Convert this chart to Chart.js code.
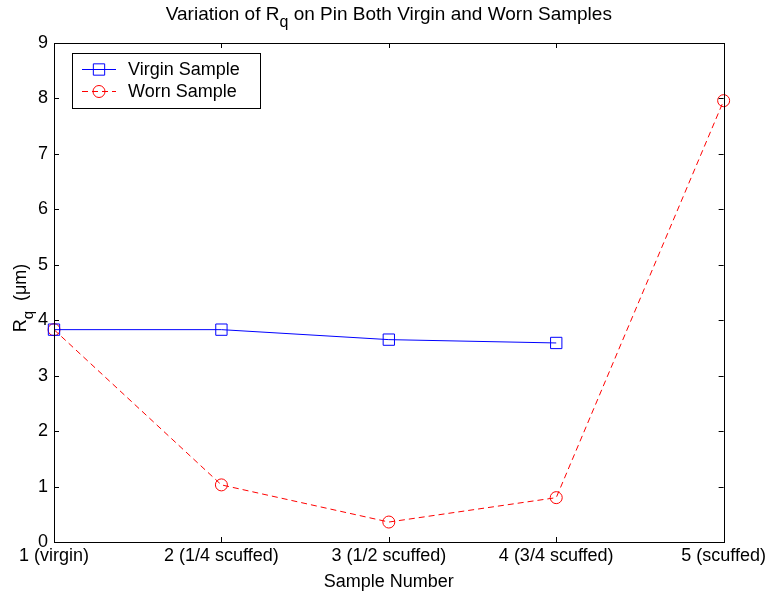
<!DOCTYPE html>
<html>
<head>
<meta charset="utf-8">
<script src="https://cdn.jsdelivr.net/npm/chart.js@4.4.0/dist/chart.umd.min.js"></script>
<style>
html,body{margin:0;padding:0;background:#fff;}
</style>
</head>
<body>
<canvas id="c" width="769" height="594"></canvas>
<script>
const sampleLabels = ['1 (virgin)', '2 (1/4 scuffed)', '3 (1/2 scuffed)', '4 (3/4 scuffed)', '5 (scuffed)'];
const virginRq = [3.83, 3.83, 3.65, 3.59];
const wornRq = [3.83, 1.03, 0.36, 0.80, 7.96];
const yMin = 0, yMax = 9;

const FONT = "'Liberation Sans', Arial, sans-serif";
const FS = 18;
const SUB = 15;

// draws text with a subscript piece, parts = [[text, isSub], ...]
function subText(ctx, parts, x, y, size) {
  const sub = Math.round(size * SUB / FS);
  let w = 0;
  parts.forEach(p => {
    ctx.font = (p[1] ? sub : size) + 'px ' + FONT;
    w += ctx.measureText(p[0]).width;
  });
  let cx = x - w / 2;
  parts.forEach(p => {
    ctx.font = (p[1] ? sub : size) + 'px ' + FONT;
    ctx.fillText(p[0], cx, y + (p[1] ? 7 : 0));
    cx += ctx.measureText(p[0]).width;
  });
}

const decor = {
  id: 'decor',
  afterDraw(chart) {
    const ctx = chart.ctx;
    const a = chart.chartArea;
    const xs = chart.scales.x, ys = chart.scales.y;
    ctx.save();
    ctx.strokeStyle = '#000';
    ctx.lineWidth = 1;
    // box
    ctx.strokeRect(Math.round(a.left) + 0.5, Math.round(a.top) + 0.5,
      Math.round(a.right - a.left), Math.round(a.bottom - a.top));
    // inward ticks on all sides
    const tl = 5;
    ctx.beginPath();
    xs.ticks.forEach((t, i) => {
      const px = Math.round(xs.getPixelForTick(i)) + 0.5;
      ctx.moveTo(px, a.bottom); ctx.lineTo(px, a.bottom - tl);
      ctx.moveTo(px, a.top); ctx.lineTo(px, a.top + tl);
    });
    ys.ticks.forEach(t => {
      const py = Math.round(ys.getPixelForValue(t.value)) + 0.5;
      ctx.moveTo(a.left, py); ctx.lineTo(a.left + tl, py);
      ctx.moveTo(a.right, py); ctx.lineTo(a.right - tl, py);
    });
    ctx.stroke();

    // title
    ctx.fillStyle = '#000';
    ctx.textBaseline = 'alphabetic';
    ctx.textAlign = 'left';
    subText(ctx, [['Variation of R', false], ['q', true], [' on Pin Both Virgin and Worn Samples', false]],
      (a.left + a.right) / 2, 20, 19);

    // y axis title
    ctx.save();
    ctx.translate(26, 298);
    ctx.rotate(-Math.PI / 2);
    subText(ctx, [['R', false], ['q', true], ['  (\u03bcm)', false]], 0, 0, FS);
    ctx.restore();

    // legend
    const lx = 72, ly = 53, lw = 188, lh = 55;
    ctx.fillStyle = '#fff';
    ctx.fillRect(lx, ly, lw, lh);
    ctx.strokeStyle = '#000';
    ctx.strokeRect(lx + 0.5, ly + 0.5, lw, lh);
    const rows = [
      {text: 'Virgin Sample', ds: chart.data.datasets[0], y: 69},
      {text: 'Worn Sample', ds: chart.data.datasets[1], y: 91}
    ];
    rows.forEach(r => {
      ctx.strokeStyle = r.ds.borderColor;
      ctx.setLineDash(r.ds.borderDash || []);
      ctx.beginPath();
      ctx.moveTo(82, r.y + 0.5); ctx.lineTo(116, r.y + 0.5);
      ctx.stroke();
      ctx.setLineDash([]);
      ctx.fillStyle = 'rgba(0,0,0,0)';
      ctx.strokeStyle = r.ds.pointBorderColor;
      Chart.helpers.drawPoint(ctx, {pointStyle: r.ds.pointStyle, radius: r.ds.pointRadius, borderWidth: 1, rotation: 0}, 99, r.y + 0.5);
      ctx.fillStyle = '#000';
      ctx.font = FS + 'px ' + FONT;
      ctx.textBaseline = 'middle';
      ctx.fillText(r.text, 128, r.y + 1);
    });
    ctx.restore();
  }
};

new Chart(document.getElementById('c'), {
  type: 'line',
  data: {
    labels: sampleLabels,
    datasets: [
      {
        label: 'Virgin Sample', data: virginRq,
        borderColor: '#0000ff', borderWidth: 1,
        pointStyle: 'rect', pointRadius: 8, pointBorderColor: '#0000ff',
        pointBackgroundColor: 'rgba(0,0,0,0)', pointBorderWidth: 1,
        tension: 0, fill: false
      },
      {
        label: 'Worn Sample', data: wornRq,
        borderColor: '#ff0000', borderWidth: 1, borderDash: [6, 4],
        pointStyle: 'circle', pointRadius: 6, pointBorderColor: '#ff0000',
        pointBackgroundColor: 'rgba(0,0,0,0)', pointBorderWidth: 1,
        tension: 0, fill: false
      }
    ]
  },
  options: {
    responsive: false,
    animation: false,
    devicePixelRatio: 1,
    layout: {padding: {top: 43, right: 44, left: 0, bottom: 0}},
    plugins: {legend: {display: false}, title: {display: false}, tooltip: {enabled: false}},
    scales: {
      x: {
        type: 'category', offset: false,
        grid: {display: false, drawTicks: false},
        border: {display: false},
        ticks: {color: '#000', font: {family: FONT, size: FS}, padding: 3, maxRotation: 0, autoSkip: false},
        title: {display: true, text: 'Sample Number', color: '#000', font: {family: FONT, size: FS}, padding: {top: 0, bottom: 1}},
        afterFit: s => { s.height = 52; }
      },
      y: {
        min: yMin, max: yMax,
        grid: {display: false, drawTicks: false},
        border: {display: false},
        ticks: {stepSize: 1, color: '#000', font: {family: FONT, size: FS}, padding: 6},
        afterFit: s => { s.width = 54; }
      }
    }
  },
  plugins: [decor]
});
</script>
</body>
</html>
